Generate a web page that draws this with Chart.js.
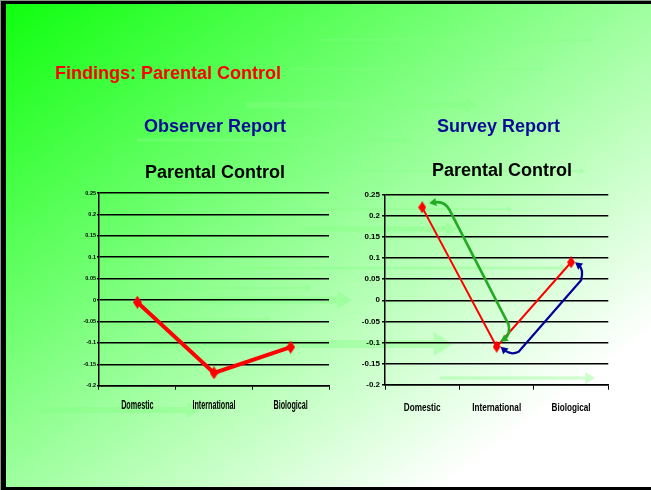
<!DOCTYPE html>
<html>
<head>
<meta charset="utf-8">
<script src="https://cdn.jsdelivr.net/npm/chart.js@4.4.1/dist/chart.umd.min.js"></script>
<style>
  html, body { margin: 0; padding: 0; width: 651px; height: 490px; overflow: hidden; background: #8a9a8a; }
  #slide {
    position: absolute; left: 1px; top: 1px; width: 650px; height: 489px; box-sizing: border-box;
    border-left: 5px solid #000; border-top: 3px solid #000; border-bottom: 3px solid #000;
    background: linear-gradient(to bottom right, #0fff0f 0%, #ffffff 84%, #ffffff 100%);
  }
  #decor { position: absolute; left: 0; top: 0; }
  .txt {
    position: absolute; font-family: "Liberation Sans", Arial, sans-serif; font-weight: bold;
    font-size: 18px; line-height: 18px; white-space: nowrap;
  }
  canvas.chart { position: absolute; }
</style>
</head>
<body>
<div id="slide"></div>
<canvas id="decor" width="651" height="490"></canvas>
<div class="txt" style="left:55px;top:64px;color:#ff0000;">Findings: Parental Control</div>
<div class="txt" style="left:144px;top:117px;color:#0a0a99;">Observer Report</div>
<div class="txt" style="left:437px;top:117px;color:#0a0a99;">Survey Report</div>
<div class="txt" style="left:145px;top:163px;color:#000;">Parental Control</div>
<div class="txt" style="left:432px;top:161px;color:#000;">Parental Control</div>
<canvas id="left" class="chart" width="300" height="240" style="left:40px;top:180px;"></canvas>
<canvas id="right" class="chart" width="310" height="240" style="left:330px;top:180px;"></canvas>
<script>
  var categories = ['Domestic', 'International', 'Biological'];
  var observerValues = [-0.005, -0.17, -0.11];
  var surveyValues = [0.22, -0.11, 0.09];
  var yMin = -0.2;
  var yMax = 0.25;
  var yStep = 0.05;

  // faint background arrows of the slide template: [x1, x2, y, shaft, head, twoHeads]
  var DECOR = [
    [320, 593, 40, 1.5, 3, false],
    [290, 545, 69, 1.5, 3, false],
    [246, 479, 105, 6, 8, false],
    [137, 411, 140, 3, 5, false],
    [311, 585, 171, 1.5, 3, true],
    [150, 340, 198, 1.5, 3, false],
    [178, 512, 209, 1.5, 3, true],
    [300, 457, 229, 5, 7, false],
    [233, 567, 268, 2.5, 4, false],
    [137, 312, 288, 2, 4, false],
    [200, 352, 300, 7, 9, false],
    [180, 270, 319, 1.5, 3, false],
    [145, 453, 344, 8, 12, false],
    [440, 595, 378, 3, 6, false],
    [40, 200, 410, 6, 8, false]
  ];

  function drawDecor() {
    var ctx = document.getElementById('decor').getContext('2d');
    ctx.fillStyle = 'rgba(130, 255, 130, 0.4)';
    DECOR.forEach(function (d) {
      var x1 = d[0], x2 = d[1], y = d[2], w = d[3], h = d[4];
      var L = h * 1.6;
      var s = d[5] ? x1 + L : x1;
      ctx.fillRect(s, y - w / 2, x2 - L - s, w);
      ctx.beginPath();
      ctx.moveTo(x2, y); ctx.lineTo(x2 - L, y - h); ctx.lineTo(x2 - L, y + h);
      ctx.closePath(); ctx.fill();
      if (d[5]) {
        ctx.beginPath();
        ctx.moveTo(x1, y); ctx.lineTo(x1 + L, y - h); ctx.lineTo(x1 + L, y + h);
        ctx.closePath(); ctx.fill();
      }
    });
  }
  drawDecor();

  // tall red diamond used as the point marker
  function diamond(w, h) {
    var c = document.createElement('canvas');
    c.width = w; c.height = h;
    var g = c.getContext('2d');
    g.fillStyle = '#ff0000';
    g.beginPath();
    g.moveTo(w / 2, 0); g.lineTo(w, h / 2); g.lineTo(w / 2, h); g.lineTo(0, h / 2);
    g.closePath(); g.fill();
    return c;
  }

  function tickLabel(v) {
    return String(Number(v.toFixed(2)));
  }

  // category labels in the slide are drawn condensed
  var condensedLabels = {
    id: 'condensedLabels',
    afterDraw: function (chart, args, opts) {
      var sx = chart.scales.x;
      var ctx = chart.ctx;
      ctx.save();
      ctx.font = 'bold ' + opts.size + 'px "Liberation Sans", Arial';
      ctx.fillStyle = '#000';
      ctx.textAlign = 'center';
      ctx.textBaseline = 'middle';
      sx.ticks.forEach(function (t, i) {
        ctx.save();
        ctx.translate(sx.getPixelForTick(i), sx.top + opts.dy);
        ctx.scale(opts.squeeze, 1);
        ctx.fillText(sx.getLabelForValue(t.value), 0, 0);
        ctx.restore();
      });
      ctx.restore();
    }
  };

  function head(ctx, tip, from, len, half) {
    var a = Math.atan2(tip.y - from.y, tip.x - from.x);
    var bx = tip.x - len * Math.cos(a), by = tip.y - len * Math.sin(a);
    ctx.beginPath();
    ctx.moveTo(tip.x, tip.y);
    ctx.lineTo(bx + half * Math.sin(a), by - half * Math.cos(a));
    ctx.lineTo(bx - half * Math.sin(a), by + half * Math.cos(a));
    ctx.closePath();
    ctx.fill();
  }

  function back(tip, from, d) {
    var a = Math.atan2(tip.y - from.y, tip.x - from.x);
    return { x: tip.x - d * Math.cos(a), y: tip.y - d * Math.sin(a) };
  }

  function off(p, dx, dy) { return { x: p.x + dx, y: p.y + dy }; }

  function curvedArrow(ctx, pts, color, width) {
    // pts: tipA, ctrlA, a1, a2, ctrlB, tipB
    var len = 7, half = 4;
    var s = back(pts[0], pts[1], len * 0.6);
    var e = back(pts[5], pts[4], len * 0.6);
    ctx.save();
    ctx.strokeStyle = color;
    ctx.fillStyle = color;
    ctx.lineWidth = width;
    ctx.lineJoin = 'round';
    ctx.beginPath();
    ctx.moveTo(s.x, s.y);
    ctx.quadraticCurveTo(pts[1].x, pts[1].y, pts[2].x, pts[2].y);
    ctx.lineTo(pts[3].x, pts[3].y);
    ctx.quadraticCurveTo(pts[4].x, pts[4].y, e.x, e.y);
    ctx.stroke();
    head(ctx, pts[0], pts[1], len, half);
    head(ctx, pts[5], pts[4], len, half);
    ctx.restore();
  }

  var changeArrows = {
    id: 'changeArrows',
    afterDatasetsDraw: function (chart) {
      var pts = chart.getDatasetMeta(0).data;
      var D = { x: pts[0].x, y: pts[0].y };
      var I = { x: pts[1].x, y: pts[1].y };
      var B = { x: pts[2].x, y: pts[2].y };
      var ctx = chart.ctx;
      curvedArrow(ctx, [off(D, 7, -4), off(D, 22, -7), off(D, 27, 2),
        off(I, 12, -22), off(I, 14, -12), off(I, 4, -5)], '#22aa22', 2.6);
      curvedArrow(ctx, [off(I, 4, 0), off(I, 14, 9), off(I, 22, 5),
        off(B, 10, 18), off(B, 13, 7), off(B, 4, 0)], '#000099', 2.2);
    }
  };

  function makeChart(id, values, cfg, plugins) {
    return new Chart(document.getElementById(id), {
      type: 'line',
      data: {
        labels: categories,
        datasets: [{
          data: values,
          borderColor: '#ff0000',
          backgroundColor: '#ff0000',
          borderWidth: cfg.lineWidth,
          pointStyle: diamond(cfg.markW, cfg.markH),
          pointRadius: 5,
          tension: 0,
          fill: false,
        }],
      },
      options: {
        responsive: false,
        animation: false,
        events: [],
        layout: { padding: { left: 0, top: cfg.padTop, right: cfg.padRight, bottom: 0 } },
        plugins: {
          legend: { display: false },
          title: { display: false },
          tooltip: { enabled: false },
          condensedLabels: { size: cfg.xFont, squeeze: cfg.squeeze, dy: cfg.labelDy },
        },
        scales: {
          x: {
            offset: true,
            grid: { offset: true, drawOnChartArea: false, drawTicks: true, tickLength: cfg.xTick, color: '#000', lineWidth: 1 },
            border: { display: true, color: '#000', width: 1.5 },
            ticks: { display: false },
            afterFit: function (s) { s.height = cfg.xHeight; },
          },
          y: {
            min: yMin,
            max: yMax,
            grid: { color: '#000', lineWidth: 1.5, tickLength: cfg.yTick },
            border: { display: true, color: '#000', width: 1.5 },
            ticks: {
              stepSize: yStep,
              color: '#000',
              padding: cfg.yPad,
              callback: tickLabel,
              font: { family: '"Liberation Sans", Arial', weight: 'bold', size: cfg.yFont },
            },
            afterFit: function (s) { s.width = cfg.yWidth; },
          },
        },
      },
      plugins: [condensedLabels].concat(plugins),
    });
  }

  makeChart('left', observerValues, {
    lineWidth: 4, markW: 9, markH: 13, padTop: 13, padRight: 11,
    xTick: 4, xHeight: 34.3, xFont: 12, squeeze: 0.6, labelDy: 20,
    yTick: 2, yPad: 1, yFont: 5.5, yWidth: 59,
  }, []);

  makeChart('right', surveyValues, {
    lineWidth: 2, markW: 8, markH: 12, padTop: 14.7, padRight: 31.7,
    xTick: 5, xHeight: 35.3, xFont: 11.5, squeeze: 0.71, labelDy: 23.3,
    yTick: 3, yPad: 2, yFont: 8, yWidth: 55,
  }, [changeArrows]);
</script>
</body>
</html>
